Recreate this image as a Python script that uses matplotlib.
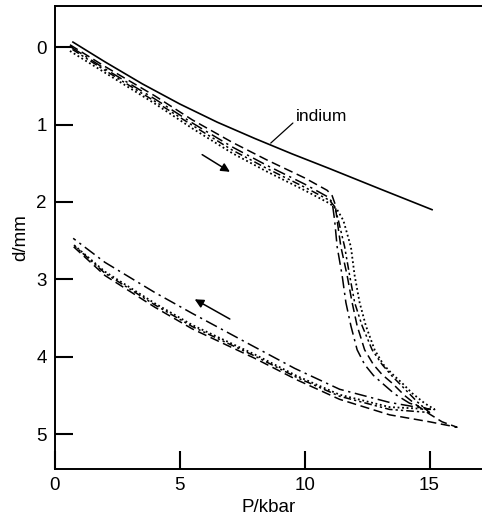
import numpy as np
import matplotlib.pyplot as plt

plt.rcParams['font.family'] = ['Liberation Sans', 'DejaVu Sans']

# indium reference curve
p_in = [0.72, 2.0, 3.5, 5.0, 6.5, 8.0, 9.5, 11.0, 13.0, 15.1]
d_in = [-0.065, 0.19, 0.475, 0.735, 0.97, 1.18, 1.38, 1.57, 1.83, 2.1]

# dashed run: loading, then unloading
p_a = [0.6, 2.0, 4.0, 5.5, 7.1, 8.5, 10.0, 10.9, 11.1, 11.22, 11.3, 11.45, 11.7, 11.9,
       12.1, 12.4, 12.75, 13.1, 13.5, 14.0, 14.5, 15.0, 15.5, 16.1,
       15.0, 13.4, 11.4, 9.7, 8.0, 5.5, 4.0, 2.0, 0.75]
d_a = [-0.03, 0.25, 0.63, 0.94, 1.23, 1.46, 1.69, 1.85, 1.92, 2.03, 2.24, 2.58, 2.95, 3.3,
       3.6, 3.91, 4.1, 4.23, 4.34, 4.5, 4.63, 4.74, 4.84, 4.91,
       4.84, 4.75, 4.55, 4.3, 4.02, 3.64, 3.36, 2.95, 2.58]

# dash-dot run
p_b = [0.65, 2.0, 4.0, 5.5, 7.1, 8.5, 10.0, 10.9, 11.1, 11.2, 11.3, 11.5, 11.65, 11.85,
       12.1, 12.4, 12.75, 13.1, 13.6, 14.2, 15.0,
       13.4, 11.4, 9.6, 7.8, 5.5, 4.0, 2.0, 0.73]
d_b = [0.0, 0.28, 0.67, 0.98, 1.29, 1.53, 1.77, 1.93, 2.0, 2.24, 2.58, 2.95, 3.3, 3.6,
       3.91, 4.1, 4.24, 4.34, 4.48, 4.6, 4.68,
       4.59, 4.42, 4.15, 3.84, 3.44, 3.17, 2.78, 2.47]

# dotted run
p_c = [0.6, 2.0, 4.0, 5.5, 7.1, 8.5, 10.0, 11.0, 11.3, 11.55, 11.85, 12.0, 12.2, 12.45,
       12.8, 13.15, 13.5, 13.9, 14.3, 14.8, 15.2,
       13.4, 11.4, 9.7, 8.0, 5.5, 4.0, 2.0, 0.7]
d_c = [0.05, 0.33, 0.73, 1.05, 1.37, 1.61, 1.85, 2.02, 2.1, 2.24, 2.58, 2.95, 3.3, 3.6,
       3.91, 4.1, 4.22, 4.34, 4.47, 4.6, 4.68,
       4.65, 4.49, 4.25, 3.97, 3.59, 3.31, 2.9, 2.54]

# dash-dot-dot run
p_d = [0.7, 2.0, 4.0, 5.5, 7.1, 8.5, 10.0, 11.0, 11.2, 11.35, 11.6, 11.8, 12.0, 12.3,
       12.7, 13.1, 13.5, 13.9, 14.5, 15.0,
       13.4, 11.4, 9.7, 8.0, 5.5, 4.0, 2.0, 0.72]
d_d = [0.03, 0.3, 0.7, 1.01, 1.33, 1.57, 1.81, 1.98, 2.06, 2.24, 2.58, 2.95, 3.3, 3.6,
       3.91, 4.1, 4.25, 4.38, 4.58, 4.72,
       4.68, 4.51, 4.27, 3.99, 3.61, 3.33, 2.92, 2.55]

fig = plt.figure(figsize=(4.82, 5.19), dpi=100)
ax = fig.add_axes([0.114, 0.0963, 0.886, 0.892])

ax.plot(p_in, d_in, color='black', lw=1.2)
ax.plot(p_a, d_a, color='black', lw=1.1, linestyle=(0, (6, 3)))
ax.plot(p_b, d_b, color='black', lw=1.1, linestyle=(0, (8, 3, 1.5, 3)))
ax.plot(p_c, d_c, color='black', lw=1.3, linestyle=(0, (1, 1.5)))
ax.plot(p_d, d_d, color='black', lw=1.1, linestyle=(0, (5, 2, 1.5, 2, 1.5, 2)))

# direction arrows
ax.annotate('', xy=(7.1, 1.63), xytext=(5.8, 1.37),
            arrowprops=dict(arrowstyle='-|>', color='black', lw=1.1, mutation_scale=13))
ax.annotate('', xy=(5.5, 3.24), xytext=(7.1, 3.53),
            arrowprops=dict(arrowstyle='-|>', color='black', lw=1.1, mutation_scale=13))

ax.annotate('indium', xy=(8.64, 1.24), xytext=(9.64, 0.89), fontsize=12.5,
            ha='left', va='center',
            arrowprops=dict(arrowstyle='-', color='black', lw=0.9, shrinkA=0, shrinkB=0,
                            relpos=(0, 0.2)))

ax.set_xlim(0, 17.1)
ax.set_ylim(5.45, -0.53)
ax.set_xticks([0, 5, 10, 15])
ax.set_yticks([0, 1, 2, 3, 4, 5])
ax.tick_params(direction='in', length=13, width=1.5, labelsize=13.5, pad=6)
ax.spines['right'].set_visible(False)
for s in ['left', 'bottom', 'top']:
    ax.spines[s].set_linewidth(1.4)

ax.set_xlabel('P/kbar', fontsize=13.5, labelpad=3)
ax.set_ylabel('d/mm', fontsize=13.5, labelpad=5)

fig.savefig('out.png', dpi=100)
